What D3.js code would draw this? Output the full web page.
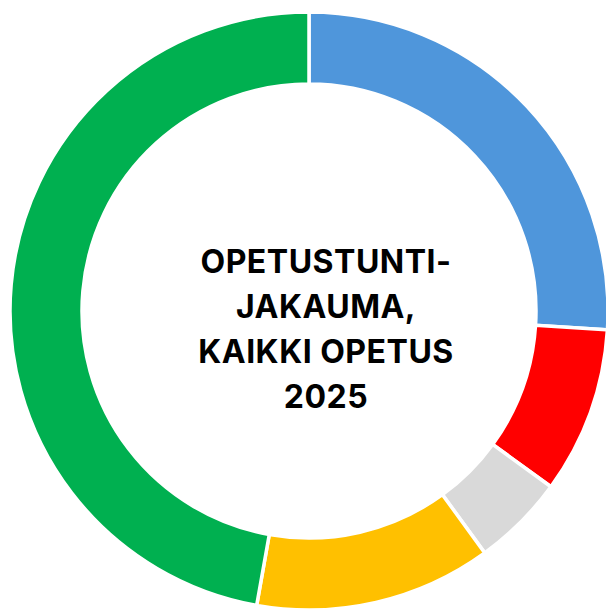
<!DOCTYPE html>
<html>
<head>
<meta charset="utf-8">
<script src="https://cdn.jsdelivr.net/npm/d3@7"></script>
<style>
  html, body { margin: 0; padding: 0; background: #fff; overflow: hidden; }
</style>
</head>
<body>
<div id="donut"></div>
<script>
// slices, clockwise from 12 o'clock (share of hours, %)
const categories = ["A", "B", "C", "D", "E"];
const values = [26.0, 9.0, 5.0, 12.8, 47.2];
const colors = ["#4f96db", "#ff0000", "#d9d9d9", "#ffc000", "#00b050"];
const titleLines = ["OPETUSTUNTI-", "JAKAUMA,", "KAIKKI OPETUS", "2025"];

render();

function render() {
    const width = 606, height = 612;
    const cx = 309, cy = 311;
    const outerR = 299, innerR = 227;

    const svg = d3.select('#donut').append('svg')
        .attr('width', width)
        .attr('height', height);

    const pie = d3.pie()
        .sort(null)
        .value(d => d.value);

    const arc = d3.arc()
        .innerRadius(innerR)
        .outerRadius(outerR);

    const data = categories.map((c, i) => ({name: c, value: values[i], color: colors[i]}));

    const g = svg.append('g')
        .attr('transform', `translate(${cx},${cy})`);

    g.selectAll('path')
        .data(pie(data))
        .enter()
        .append('path')
        .attr('d', arc)
        .attr('fill', d => d.data.color)
        .attr('stroke', '#fff')
        .attr('stroke-width', 3.5)
        .attr('stroke-linejoin', 'miter');

    // centre title
    svg.append('text')
        .attr('x', 326)
        .attr('y', 273)
        .style('font-family', 'Inter, sans-serif')
        .style('font-weight', 700)
        .style('font-size', '32px')
        .style('letter-spacing', '0.5px')
        .style('text-anchor', 'middle')
        .style('fill', '#000')
        .selectAll('tspan')
        .data(titleLines)
        .enter()
        .append('tspan')
        .attr('x', 326)
        .attr('dy', (d, i) => i === 0 ? 0 : 45)
        .text(d => d);
}
</script>
</body>
</html>
